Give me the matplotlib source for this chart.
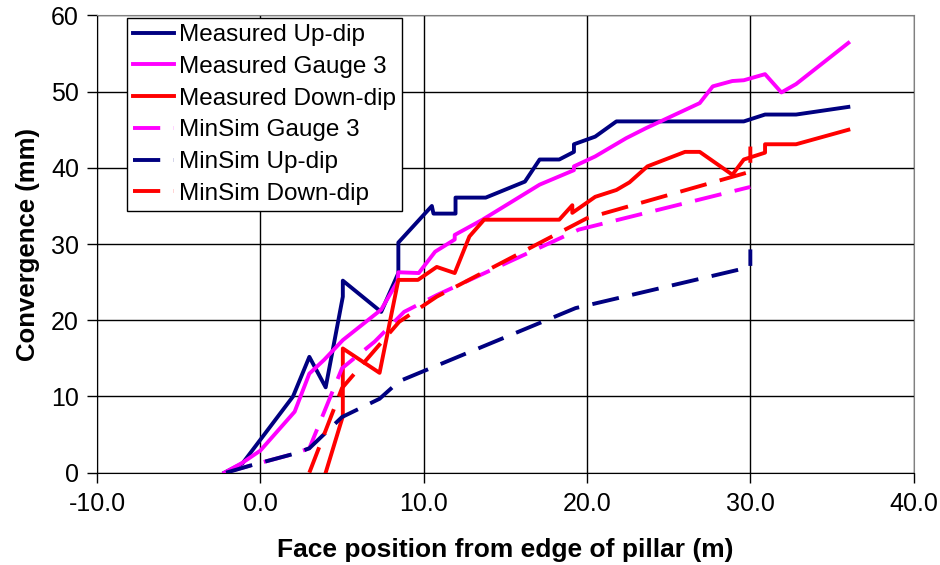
import matplotlib
matplotlib.use("Agg")
import matplotlib.pyplot as plt
from matplotlib.ticker import MultipleLocator, FormatStrFormatter

plt.rcParams['font.family'] = ['Liberation Sans', 'DejaVu Sans']

# Measured series
meas_up_x = [-2.2, -1.1, 2.0, 3.0, 4.0, 5.05, 5.05, 7.4, 8.45, 8.45, 10.5, 10.6, 11.95, 11.95,
             13.8, 16.2, 17.1, 18.3, 19.2, 19.2, 20.5, 21.8, 29.6, 30.9, 32.8, 36.0]
meas_up_y = [0, 1.2, 10.0, 15.2, 11.2, 23.1, 25.2, 21.1, 26.2, 30.2, 35.0, 34.0, 34.0, 36.1,
             36.1, 38.2, 41.1, 41.1, 42.1, 43.1, 44.1, 46.1, 46.1, 47.0, 47.0, 48.0]

meas_g3_x = [-2.2, -1.1, 0.0, 2.1, 3.0, 3.9, 5.05, 7.4, 8.4, 8.45, 9.7, 10.7, 11.9, 11.9, 13.6,
             17.1, 19.2, 19.2, 20.5, 22.4, 23.6, 26.9, 27.7, 28.9, 29.6, 30.9, 31.9, 32.8, 36.0]
meas_g3_y = [0, 1.3, 2.9, 8.0, 13.0, 14.8, 17.4, 21.4, 25.1, 26.3, 26.2, 29.0, 30.6, 31.2, 33.2,
             37.8, 39.7, 40.2, 41.5, 43.9, 45.2, 48.5, 50.7, 51.4, 51.5, 52.3, 49.9, 51.0, 56.4]

meas_down_x = [4.0, 5.05, 5.05, 7.3, 8.45, 9.65, 10.8, 11.9, 12.8, 13.7, 18.3, 19.1, 19.1, 20.5,
               21.8, 22.6, 23.7, 26.0, 26.9, 28.9, 29.6, 30.9, 30.9, 32.8, 36.0]
meas_down_y = [0, 7.4, 16.3, 13.1, 25.3, 25.3, 27.0, 26.2, 31.0, 33.2, 33.2, 35.1, 34.1, 36.2,
               37.1, 38.1, 40.2, 42.1, 42.1, 39.1, 41.1, 42.0, 43.1, 43.1, 45.0]

# MinSim series
sim_g3_x = [-2.2, -0.5, 2.1, 3.0, 5.0, 7.0, 8.8, 10.8, 19.5, 30.0]
sim_g3_y = [0, 1.0, 2.5, 3.2, 13.7, 17.2, 21.1, 23.3, 31.9, 37.5]

sim_up_x = [-2.1, -0.5, 2.1, 3.0, 5.0, 7.3, 8.5, 19.3, 30.0, 30.0]
sim_up_y = [0, 1.0, 2.5, 3.2, 7.3, 9.7, 12.0, 21.6, 27.0, 29.3]

sim_down_x = [3.0, 5.0, 8.5, 10.8, 20.0, 30.0, 30.0]
sim_down_y = [0, 11.1, 19.8, 23.1, 33.4, 39.5, 42.8]

navy = '#000080'
magenta = '#FF00FF'
red = '#FF0000'

fig = plt.figure(figsize=(9.4, 5.65), dpi=100)
ax = fig.add_axes([0.1032, 0.1634, 0.8688, 0.8092])

lw = 2.8
dash = (7, 3.5)
ax.plot(meas_up_x, meas_up_y, color=navy, lw=lw, label='Measured Up-dip')
ax.plot(meas_g3_x, meas_g3_y, color=magenta, lw=lw, label='Measured Gauge 3')
ax.plot(meas_down_x, meas_down_y, color=red, lw=lw, label='Measured Down-dip')
ax.plot(sim_g3_x, sim_g3_y, color=magenta, lw=lw, dashes=dash, label='MinSim Gauge 3')
ax.plot(sim_up_x, sim_up_y, color=navy, lw=lw, dashes=dash, label='MinSim Up-dip')
ax.plot(sim_down_x, sim_down_y, color=red, lw=lw, dashes=dash, label='MinSim Down-dip')

ax.set_xlim(-10, 40)
ax.set_ylim(0, 60)
ax.xaxis.set_major_locator(MultipleLocator(10))
ax.yaxis.set_major_locator(MultipleLocator(10))
ax.xaxis.set_major_formatter(FormatStrFormatter('%.1f'))
ax.tick_params(labelsize=18, length=7, width=1, direction='out', colors='black')
ax.tick_params(axis='x', pad=7)
ax.tick_params(axis='y', pad=6)
ax.grid(True, color='black', lw=1)
ax.set_axisbelow(True)
for side in ['top', 'right']:
    ax.spines[side].set_color('#808080')
for side in ['left', 'bottom']:
    ax.spines[side].set_color('black')

ax.set_xlabel('Face position from edge of pillar (m)', fontsize=19, fontweight='bold', labelpad=16)
ax.set_ylabel('Convergence (mm)', fontsize=18.5, fontweight='bold', labelpad=8)

leg = ax.legend(loc='upper left', bbox_to_anchor=(0.0367, 0.9945), fontsize=17.5,
                frameon=True, fancybox=False, edgecolor='black', framealpha=1,
                borderaxespad=0, borderpad=0.25, labelspacing=0.4,
                handlelength=1.7, handletextpad=0.2)
leg.get_frame().set_linewidth(1)

fig.savefig('out.png', dpi=100)
